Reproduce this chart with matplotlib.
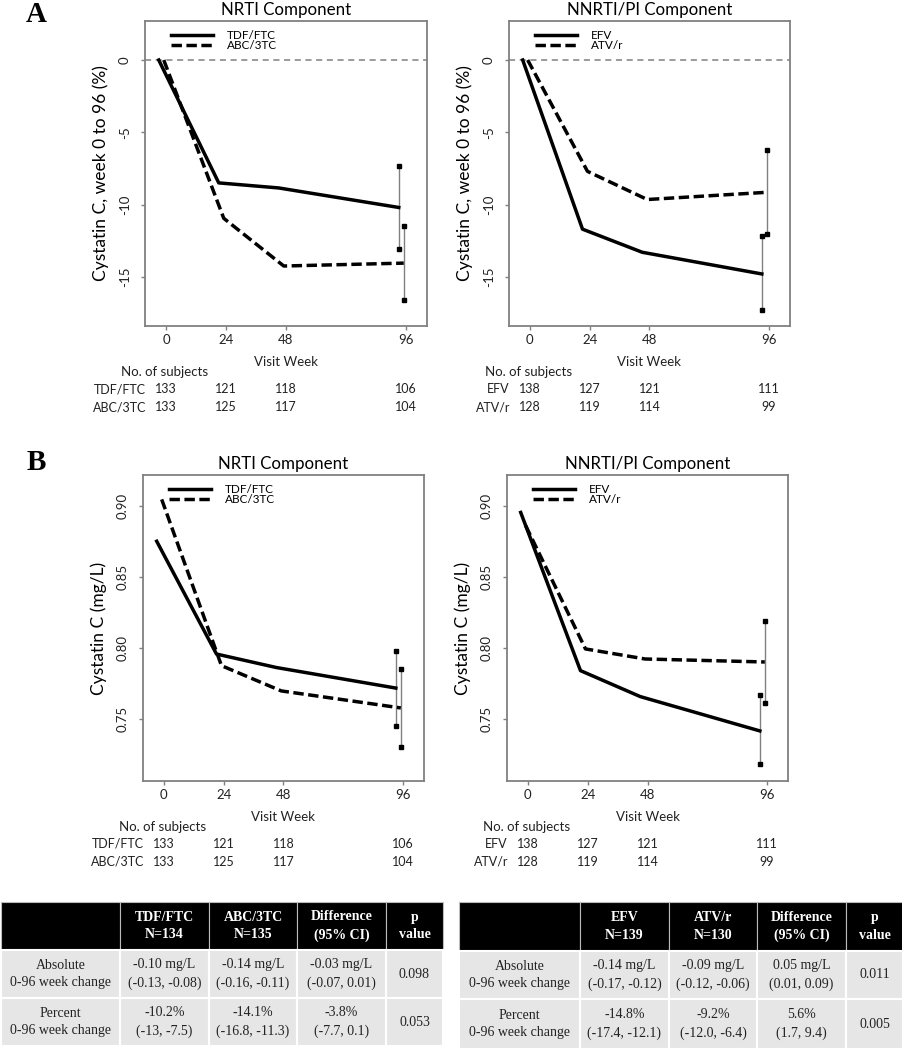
import matplotlib
matplotlib.use('Agg')
import matplotlib.pyplot as plt
import matplotlib.transforms as mtransforms
from matplotlib.patches import Rectangle

plt.rcParams['font.family'] = ['Lato', 'DejaVu Sans']

W, H = 903, 1050

weeks = [0, 24, 48, 96]

# Panel A: percent change in cystatin C
pct_tdf = [0, -8.5, -8.85, -10.2]
pct_abc = [0, -10.95, -14.25, -14.05]
pct_tdf_ci = [-13.1, -7.3]
pct_abc_ci = [-16.6, -11.45]
pct_efv = [0, -11.7, -13.3, -14.8]
pct_atv = [0, -7.7, -9.65, -9.15]
pct_efv_ci = [-17.3, -12.2]
pct_atv_ci = [-12.05, -6.25]

# Panel B: cystatin C (mg/L)
mgl_tdf = [0.875, 0.7955, 0.786, 0.7715]
mgl_abc = [0.9045, 0.7873, 0.7695, 0.7575]
mgl_tdf_ci = [0.7446, 0.7977]
mgl_abc_ci = [0.7302, 0.7852]
mgl_efv = [0.8953, 0.7838, 0.7655, 0.7413]
mgl_atv = [0.886, 0.7991, 0.792, 0.7899]
mgl_efv_ci = [0.718, 0.7667]
mgl_atv_ci = [0.7612, 0.8186]

# number of subjects per visit
n_tdf = [133, 121, 118, 106]
n_abc = [133, 125, 117, 104]
n_efv = [138, 127, 121, 111]
n_atv = [128, 119, 114, 99]

nrti_header = ['', 'TDF/FTC\nN=134', 'ABC/3TC\nN=135', 'Difference\n(95% CI)', 'p\nvalue']
nrti_rows = [['Absolute\n0-96 week change', '-0.10 mg/L\n(-0.13, -0.08)', '-0.14 mg/L\n(-0.16, -0.11)',
              '-0.03 mg/L\n(-0.07, 0.01)', '0.098'],
             ['Percent\n0-96 week change', '-10.2%\n(-13, -7.5)', '-14.1%\n(-16.8, -11.3)',
              '-3.8%\n(-7.7, 0.1)', '0.053']]
nnrti_header = ['', 'EFV\nN=139', 'ATV/r\nN=130', 'Difference\n(95% CI)', 'p\nvalue']
nnrti_rows = [['Absolute\n0-96 week change', '-0.14 mg/L\n(-0.17, -0.12)', '-0.09 mg/L\n(-0.12, -0.06)',
               '0.05 mg/L\n(0.01, 0.09)', '0.011'],
              ['Percent\n0-96 week change', '-14.8%\n(-17.4, -12.1)', '-9.2%\n(-12.0, -6.4)',
               '5.6%\n(1.7, 9.4)', '0.005']]

GRAY = '#808080'
TXT = '#222222'

fig = plt.figure(figsize=(W / 100, H / 100), dpi=100)


def px_axes(left, right, top, bottom):
    return fig.add_axes([left / W, 1 - bottom / H, (right - left) / W, (bottom - top) / H])


def panel(ax, title, ylabel, s1, s2, ci1, ci2, names, counts, ylim, yticks, yfmt):
    x1 = [w - 2.9 for w in weeks]
    x2 = [w - 0.9 for w in weeks]
    ax.plot(x1, s1, color='black', lw=2.5, solid_joinstyle='round', label=names[0])
    ax.plot(x2, s2, color='black', lw=2.5, dashes=(3.0, 1.3), label=names[1])
    for xx, ci in ((x1[-1], ci1), (x2[-1], ci2)):
        ax.vlines(xx, ci[0], ci[1], color=GRAY, lw=1.0, zorder=1)
        ax.plot([xx, xx], ci, ls='none', marker='s', ms=2.6, color='black')
    ax.set_xlim(-8.4, 104.4)
    ax.set_ylim(*ylim)
    ax.set_xticks(weeks)
    ax.set_yticks(yticks)
    ax.set_yticklabels([yfmt.format(v) for v in yticks], rotation=90, va='center')
    ax.tick_params(colors=GRAY, labelcolor=TXT, labelsize=9.5, length=3, width=1)
    ax.tick_params(axis='x', pad=3)
    ax.tick_params(axis='y', pad=7)
    for sp in ax.spines.values():
        sp.set_color(GRAY)
        sp.set_linewidth(1.3)
    ax.set_title(title, fontsize=12.2, color='black', pad=4)
    ax.set_ylabel(ylabel, fontsize=12.5, labelpad=7)
    ax.legend(loc='upper left', frameon=False, fontsize=8.5, handlelength=3.5, handletextpad=1.2,
              labelspacing=-0.15, borderaxespad=0.4, bbox_to_anchor=(0.06, 1.0))
    # x label and subjects table under the axis
    hpx = ax.get_position().height * H
    wpx = ax.get_position().width * W
    tr = mtransforms.blended_transform_factory(ax.transData, ax.transAxes)
    tr_ax = ax.transAxes
    ax.text(48, -36 / hpx, 'Visit Week', transform=tr, fontsize=9.5, ha='center', va='center', color=TXT)
    ax.text(-24 / wpx, -46 / hpx, 'No. of subjects', transform=tr_ax, fontsize=9.5,
            ha='left', va='center', color=TXT)
    for off, name, ns in ((-63, names[0], counts[0]), (-81, names[1], counts[1])):
        ax.text(1 / wpx, off / hpx, name, transform=tr_ax, fontsize=9, ha='right', va='center', color=TXT)
        for w, n in zip(weeks, ns):
            ax.text(w, off / hpx, str(n), transform=tr, fontsize=9, ha='center', va='center', color=TXT)


axA1 = px_axes(145, 427, 21, 326)
axA2 = px_axes(509, 790, 21, 326)
axB1 = px_axes(143, 424, 475, 781)
axB2 = px_axes(507, 788, 475, 781)

pct_lim = (-18.4, 2.7)
mgl_lim = (0.706, 0.9217)
for ax in (axA1, axA2):
    ax.axhline(0, color=GRAY, lw=1.1, dashes=(4, 3), zorder=0)

panel(axA1, 'NRTI Component', 'Cystatin C, week 0 to 96 (%)', pct_tdf, pct_abc, pct_tdf_ci, pct_abc_ci,
      ['TDF/FTC', 'ABC/3TC'], [n_tdf, n_abc], pct_lim, [0, -5, -10, -15], '{:g}')
panel(axA2, 'NNRTI/PI Component', 'Cystatin C, week 0 to 96 (%)', pct_efv, pct_atv, pct_efv_ci, pct_atv_ci,
      ['EFV', 'ATV/r'], [n_efv, n_atv], pct_lim, [0, -5, -10, -15], '{:g}')
panel(axB1, 'NRTI Component', 'Cystatin C (mg/L)', mgl_tdf, mgl_abc, mgl_tdf_ci, mgl_abc_ci,
      ['TDF/FTC', 'ABC/3TC'], [n_tdf, n_abc], mgl_lim, [0.90, 0.85, 0.80, 0.75], '{:.2f}')
panel(axB2, 'NNRTI/PI Component', 'Cystatin C (mg/L)', mgl_efv, mgl_atv, mgl_efv_ci, mgl_atv_ci,
      ['EFV', 'ATV/r'], [n_efv, n_atv], mgl_lim, [0.90, 0.85, 0.80, 0.75], '{:.2f}')

fig.text(36 / W, 1 - 15 / H, 'A', fontsize=21, fontweight='bold', family='Liberation Serif',
         ha='center', va='center')
fig.text(36 / W, 1 - 462 / H, 'B', fontsize=21, fontweight='bold', family='Liberation Serif',
         ha='center', va='center')

# results tables
axT = fig.add_axes([0, 0, 1, 1])
axT.set_xlim(0, W)
axT.set_ylim(H, 0)
axT.axis('off')


def draw_table(cols, rows_y, header, rows):
    for j in range(len(cols) - 1):
        x0, x1 = cols[j], cols[j + 1]
        y0, y1 = rows_y[0], rows_y[1]
        axT.add_patch(Rectangle((x0, y0), x1 - x0, y1 - y0, facecolor='black', edgecolor='#bbbbbb', lw=0.8))
        axT.text((x0 + x1) / 2, (y0 + y1) / 2, header[j], color='white', fontweight='bold',
                 family='Liberation Serif', fontsize=10, ha='center', va='center', linespacing=1.45)
        for i, row in enumerate(rows):
            y0, y1 = rows_y[i + 1], rows_y[i + 2]
            axT.add_patch(Rectangle((x0, y0), x1 - x0, y1 - y0, facecolor='#e6e6e6', edgecolor='white', lw=1.5))
            axT.text((x0 + x1) / 2, (y0 + y1) / 2, row[j], color='#222222',
                     family='Liberation Serif', fontsize=10, ha='center', va='center', linespacing=1.45)


draw_table([1, 120, 209, 297, 386, 443], [902, 950, 998, 1046], nrti_header, nrti_rows)
draw_table([459, 580, 669, 757, 846, 903], [902, 951, 999, 1049], nnrti_header, nnrti_rows)

fig.savefig('out.png', dpi=100, facecolor='white')
